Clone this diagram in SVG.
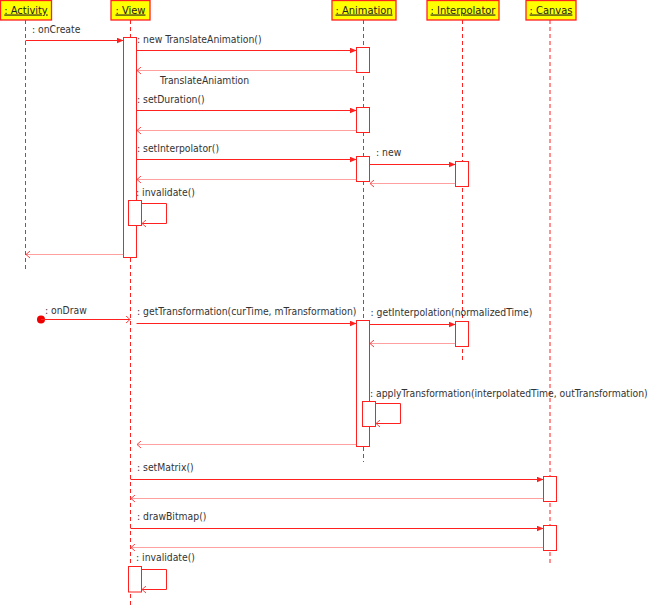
<svg xmlns="http://www.w3.org/2000/svg" width="650" height="607" viewBox="0 0 650 607">
<defs>
<style>
.hdr{fill:#ffff00;stroke:#ff2020;stroke-width:1.3}
.htxt{font-family:"DejaVu Sans Condensed","DejaVu Sans",sans-serif;font-size:11px;fill:#222;text-decoration:underline;text-anchor:middle}
.life{stroke:#ff2020;stroke-width:1;stroke-dasharray:4,3;fill:none}
.act{fill:#fff;stroke:#ff2020;stroke-width:1}
.msg{stroke:#ff2020;stroke-width:1;fill:none}
.ret{stroke:#ff4040;stroke-width:1;stroke-dasharray:1,1;fill:none}
.lbl{font-family:"DejaVu Sans Condensed","DejaVu Sans",sans-serif;font-size:10.3px;fill:#333}
</style>
<marker id="arr" markerWidth="7" markerHeight="6" refX="7" refY="3" orient="auto" markerUnits="userSpaceOnUse"><path d="M0,0 L7,3 L0,6 z" fill="#ff2020"/></marker>
<marker id="open" markerWidth="5" markerHeight="8" refX="5" refY="4" orient="auto" markerUnits="userSpaceOnUse"><path d="M0.5,0.5 L4.5,4 L0.5,7.5" fill="none" stroke="#ff4040" stroke-width="1"/></marker>
</defs>

<g id="activity">
<line class="life" x1="25.5" y1="20" x2="25.5" y2="272"/>
<rect class="hdr" x="0.5" y="0.5" width="51" height="19.5"/>
<text class="htxt" x="26" y="13.5">: Activity</text>
</g>
<g id="view">
<line class="life" x1="130.5" y1="20" x2="130.5" y2="607"/>
<rect class="hdr" x="111" y="0.5" width="39" height="19.5"/>
<text class="htxt" x="130.5" y="13.5">: View</text>
<rect class="act" x="123.5" y="37.5" width="13" height="220"/>
<rect class="act" x="128.5" y="200.5" width="13" height="25"/>
<rect class="act" x="128.5" y="566.5" width="13" height="25.5"/>
</g>
<g id="animation">
<line class="life" x1="363.5" y1="20" x2="363.5" y2="462"/>
<rect class="hdr" x="332" y="0.5" width="64" height="19.5"/>
<text class="htxt" x="364" y="13.5">: Animation</text>
<rect class="act" x="356.5" y="47.5" width="13" height="25"/>
<rect class="act" x="356.5" y="107.5" width="13" height="25"/>
<rect class="act" x="356.5" y="156.5" width="13" height="25"/>
<rect class="act" x="356.5" y="320.5" width="13" height="126"/>
<rect class="act" x="362.5" y="401.5" width="13" height="25"/>
</g>
<g id="interpolator">
<line class="life" x1="462.5" y1="20" x2="462.5" y2="362"/>
<rect class="hdr" x="427" y="0.5" width="72" height="19.5"/>
<text class="htxt" x="463" y="13.5">: Interpolator</text>
<rect class="act" x="455.5" y="161.5" width="13" height="25"/>
<rect class="act" x="455.5" y="321.5" width="13" height="25"/>
</g>
<g id="canvas">
<line class="life" x1="550" y1="20" x2="550" y2="565"/>
<rect class="hdr" x="526" y="0.5" width="50" height="19.5"/>
<text class="htxt" x="551" y="13.5">: Canvas</text>
<rect class="act" x="543.5" y="476.5" width="13" height="25"/>
<rect class="act" x="543.5" y="525.5" width="13" height="25"/>
</g>

<g id="connectors">
<line class="msg" x1="25.5" y1="40.5" x2="123.5" y2="40.5" marker-end="url(#arr)"/>
<line class="msg" x1="136.5" y1="50.5" x2="356.5" y2="50.5" marker-end="url(#arr)"/>
<line class="ret" x1="356.5" y1="70.5" x2="136.5" y2="70.5" marker-end="url(#open)"/>
<line class="msg" x1="136.5" y1="110.5" x2="356.5" y2="110.5" marker-end="url(#arr)"/>
<line class="ret" x1="356.5" y1="130.5" x2="136.5" y2="130.5" marker-end="url(#open)"/>
<line class="msg" x1="136.5" y1="159.5" x2="356.5" y2="159.5" marker-end="url(#arr)"/>
<line class="ret" x1="356.5" y1="179.5" x2="136.5" y2="179.5" marker-end="url(#open)"/>
<line class="msg" x1="369.5" y1="164.5" x2="455.5" y2="164.5" marker-end="url(#arr)"/>
<line class="ret" x1="455.5" y1="183.5" x2="369.5" y2="183.5" marker-end="url(#open)"/>
<path class="msg" d="M141.5,203.5 H166.5 V223.5 H141.5" marker-end="url(#open)"/>
<line class="ret" x1="123.5" y1="254.5" x2="25.5" y2="254.5" marker-end="url(#open)"/>
<circle cx="41" cy="319.5" r="4" fill="#ee0000"/>
<line class="msg" x1="41" y1="319.5" x2="130.5" y2="319.5" marker-end="url(#open)"/>
<line class="msg" x1="136.5" y1="323.5" x2="356.5" y2="323.5" marker-end="url(#arr)"/>
<line class="msg" x1="369.5" y1="324.5" x2="455.5" y2="324.5" marker-end="url(#arr)"/>
<line class="ret" x1="455.5" y1="343.5" x2="369.5" y2="343.5" marker-end="url(#open)"/>
<path class="msg" d="M375.5,403.5 H400.5 V423.5 H375.5" marker-end="url(#open)"/>
<line class="ret" x1="356.5" y1="444.5" x2="136.5" y2="444.5" marker-end="url(#open)"/>
<line class="msg" x1="130.5" y1="479.5" x2="543.5" y2="479.5" marker-end="url(#arr)"/>
<line class="ret" x1="543.5" y1="498.5" x2="130.5" y2="498.5" marker-end="url(#open)"/>
<line class="msg" x1="130.5" y1="528.5" x2="543.5" y2="528.5" marker-end="url(#arr)"/>
<line class="ret" x1="543.5" y1="547.5" x2="130.5" y2="547.5" marker-end="url(#open)"/>
<path class="msg" d="M141.5,569.5 H166.5 V589.5 H141.5" marker-end="url(#open)"/>
</g>

<g id="labels">
<text class="lbl" x="32" y="33">: onCreate</text>
<text class="lbl" x="137" y="43">: new TranslateAnimation()</text>
<text class="lbl" x="160" y="84">TranslateAniamtion</text>
<text class="lbl" x="137" y="103">: setDuration()</text>
<text class="lbl" x="137" y="152">: setInterpolator()</text>
<text class="lbl" x="376" y="156">: new</text>
<text class="lbl" x="136" y="195.5">: invalidate()</text>
<text class="lbl" x="45" y="314">: onDraw</text>
<text class="lbl" x="137" y="315">: getTransformation(curTime, mTransformation)</text>
<text class="lbl" x="370.5" y="316">: getInterpolation(normalizedTime)</text>
<text class="lbl" x="370" y="397">: applyTransformation(interpolatedTime, outTransformation)</text>
<text class="lbl" x="137" y="471">: setMatrix()</text>
<text class="lbl" x="137" y="520">: drawBitmap()</text>
<text class="lbl" x="136" y="561">: invalidate()</text>
</g>
</svg>
